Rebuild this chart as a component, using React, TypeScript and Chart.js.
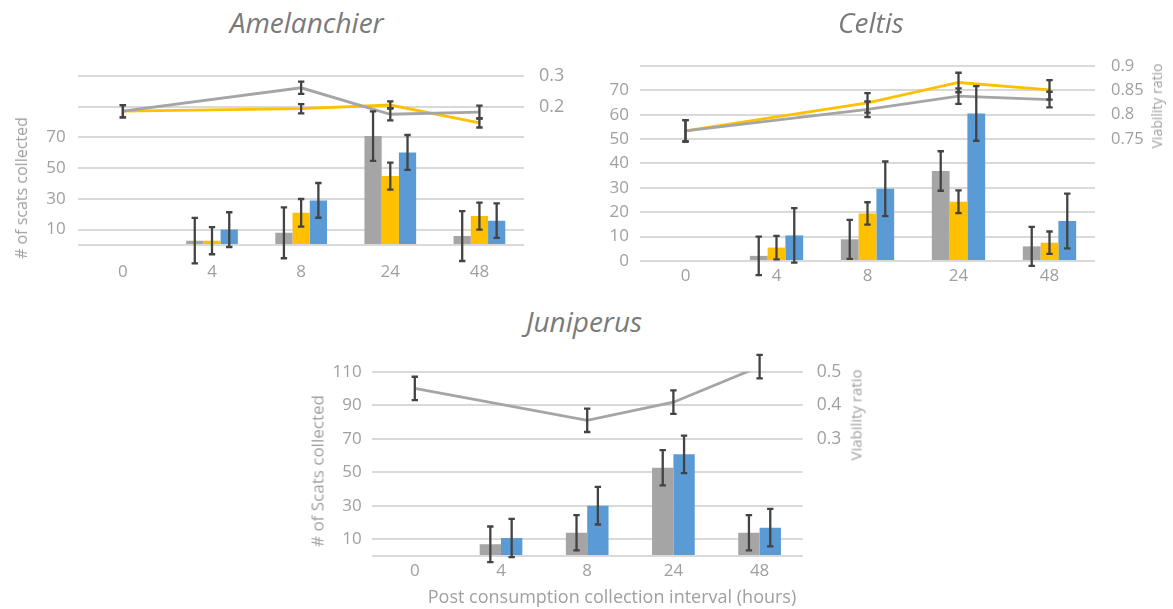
import React, { useEffect, useRef } from 'react';
import { Chart, registerables } from 'chart.js';

Chart.register(...registerables);

// ---------- shared categories ----------
const categories = ['0', '4', '8', '24', '48'];

// ---------- Amelanchier ----------
const amelBarGray = [null, 2.8, 7.9, 70.8, 5.8];
const amelBarGrayErr = [null, 14.8, 16.5, 16.1, 16.2];
const amelBarYellow = [null, 2.8, 20.9, 44.8, 18.8];
const amelBarYellowErr = [null, 8.8, 9, 8.8, 8.8];
const amelBarBlue = [null, 10, 29, 60.2, 15.8];
const amelBarBlueErr = [null, 11.3, 11.3, 11.3, 11.2];
const amelLineGray = [0.185, null, 0.261, 0.175, 0.182];
const amelLineGrayErr = [0.02, null, 0.02, 0.02, 0.021];
const amelLineYellow = [0.185, null, 0.193, 0.205, 0.147];
const amelLineYellowErr = [0.02, null, 0.015, 0.012, 0.015];
const amelLeftTicks = [0, 10, 30, 50, 70, 90, 110];
const amelLeftLabels = [10, 30, 50, 70];
const amelRightTicks = [0.2, 0.3];

// ---------- Celtis ----------
const celtBarGray = [null, 2.1, 8.9, 36.9, 6];
const celtBarGrayErr = [null, 7.9, 8, 8.1, 8];
const celtBarYellow = [null, 5.5, 19.5, 24.3, 7.5];
const celtBarYellowErr = [null, 4.8, 4.6, 4.7, 4.6];
const celtBarBlue = [null, 10.5, 29.6, 60.5, 16.4];
const celtBarBlueErr = [null, 11.2, 11.2, 11.2, 11.2];
const celtLineGray = [0.767, null, 0.811, 0.838, 0.831];
const celtLineGrayErr = [0.022, null, 0.016, 0.016, 0.016];
const celtLineYellow = [0.767, null, 0.824, 0.866, 0.851];
const celtLineYellowErr = [0.022, null, 0.02, 0.02, 0.02];
const celtLeftTicks = [0, 10, 20, 30, 40, 50, 60, 70, 80];
const celtLeftLabels = [0, 10, 20, 30, 40, 50, 60, 70];
const celtRightTicks = [0.75, 0.8, 0.85, 0.9];

// ---------- Juniperus ----------
const junBarGray = [null, 7, 13.9, 52.7, 13.9];
const junBarGrayErr = [null, 10.6, 10.5, 10.5, 10.5];
const junBarBlue = [null, 10.7, 30, 60.7, 16.9];
const junBarBlueErr = [null, 11.4, 11.2, 11.2, 11.2];
const junLineGray = [0.45, null, 0.355, 0.409, 0.515];
const junLineGrayErr = [0.035, null, 0.035, 0.035, 0.035];
const junLeftTicks = [0, 10, 30, 50, 70, 90, 110];
const junLeftLabels = [10, 30, 50, 70, 90, 110];
const junRightTicks = [0.3, 0.4, 0.5];

const GRAY = '#a5a5a5';
const YELLOW = '#ffc000';
const BLUE = '#5b9bd5';
const TICK = '#a0a0a0';
const GRID = '#d9d9d9';
const FONT = "'Open Sans', sans-serif";

const errorBarPlugin = {
  id: 'errorBars',
  afterDatasetsDraw(chart: any) {
    const ctx = chart.ctx;
    chart.data.datasets.forEach((ds: any, i: number) => {
      const errs = ds.errors;
      if (!errs) return;
      const meta = chart.getDatasetMeta(i);
      const yScale = chart.scales[meta.yAxisID];
      meta.data.forEach((el: any, j: number) => {
        const v = ds.data[j];
        const e = errs[j];
        if (v == null || e == null) return;
        const x = el.x;
        const yt = yScale.getPixelForValue(v + e);
        const yb = yScale.getPixelForValue(v - e);
        ctx.save();
        ctx.strokeStyle = '#434343';
        ctx.lineWidth = 2.3;
        ctx.beginPath();
        ctx.moveTo(x, yt);
        ctx.lineTo(x, yb);
        ctx.moveTo(x - 3.2, yt);
        ctx.lineTo(x + 3.2, yt);
        ctx.moveTo(x - 3.2, yb);
        ctx.lineTo(x + 3.2, yb);
        ctx.stroke();
        ctx.restore();
      });
    });
  },
};

type Series = { label: string; data: (number | null)[]; err: (number | null)[]; color: string };

interface PanelSpec {
  left: number;
  top: number;
  width: number;
  height: number;
  padTop: number;
  leftW: number;
  rightW: number;
  xH: number;
  leftPad: number;
  rightPad: number;
  xPad: number;
  leftMax: number;
  leftTicks: number[];
  leftLabels: number[];
  rightMin: number;
  rightMax: number;
  rightTicks: number[];
  bars: Series[];
  lines: Series[];
  catPct: number;
  tickSize: number;
  rightTickSize: number;
}

function Panel({ spec }: { spec: PanelSpec }) {
  const ref = useRef<HTMLCanvasElement | null>(null);
  useEffect(() => {
    if (!ref.current) return;
    const datasets: any[] = [];
    spec.lines.forEach((s) => {
      datasets.push({
        type: 'line',
        label: s.label,
        data: s.data,
        errors: s.err,
        borderColor: s.color,
        backgroundColor: s.color,
        borderWidth: 2.8,
        pointRadius: 0,
        tension: 0,
        spanGaps: true,
        yAxisID: 'y1',
        order: 0,
      });
    });
    spec.bars.forEach((s) => {
      datasets.push({
        type: 'bar',
        label: s.label,
        data: s.data,
        errors: s.err,
        backgroundColor: s.color,
        borderWidth: 0,
        yAxisID: 'y',
        order: 1,
        categoryPercentage: spec.catPct,
        barPercentage: 1,
      });
    });
    const chart = new Chart(ref.current, {
      type: 'bar',
      data: { labels: categories, datasets },
      plugins: [errorBarPlugin],
      options: {
        responsive: false,
        animation: false,
        devicePixelRatio: 1,
        layout: { padding: { top: spec.padTop, left: 0, right: 0, bottom: 0 } },
        plugins: { legend: { display: false }, tooltip: { enabled: false }, title: { display: false } },
        scales: {
          x: {
            type: 'category',
            grid: { display: false, drawTicks: false },
            border: { display: false },
            ticks: {
              color: TICK,
              font: { family: FONT, size: spec.tickSize },
              padding: spec.xPad,
              maxRotation: 0,
              autoSkip: false,
            },
            afterFit: (s: any) => {
              s.height = spec.xH;
            },
          },
          y: {
            type: 'linear',
            position: 'left',
            min: 0,
            max: spec.leftMax,
            grid: { color: GRID, lineWidth: 2, drawTicks: false },
            border: { display: false },
            ticks: {
              color: TICK,
              font: { family: FONT, size: spec.tickSize },
              padding: spec.leftPad,
              autoSkip: false,
              callback: (v: any) => (spec.leftLabels.includes(Number(v)) ? String(v) : ''),
            },
            afterBuildTicks: (s: any) => {
              s.ticks = spec.leftTicks.map((v) => ({ value: v }));
            },
            afterFit: (s: any) => {
              s.width = spec.leftW;
            },
          },
          y1: {
            type: 'linear',
            position: 'right',
            min: spec.rightMin,
            max: spec.rightMax,
            grid: { drawOnChartArea: false, drawTicks: false },
            border: { display: false },
            ticks: {
              color: TICK,
              font: { family: FONT, size: spec.rightTickSize },
              padding: spec.rightPad,
              autoSkip: false,
              callback: (v: any) => String(Math.round(Number(v) * 100) / 100),
            },
            afterBuildTicks: (s: any) => {
              s.ticks = spec.rightTicks.map((v) => ({ value: v }));
            },
            afterFit: (s: any) => {
              s.width = spec.rightW;
            },
          },
        },
      } as any,
    });
    return () => chart.destroy();
  }, [spec]);
  return (
    <canvas
      ref={ref}
      width={spec.width}
      height={spec.height}
      style={{ position: 'absolute', left: spec.left, top: spec.top, width: spec.width, height: spec.height }}
    />
  );
}

const amelSpec: PanelSpec = {
  left: 0, top: 50, width: 590, height: 240,
  padTop: 22.7, leftW: 78.3, rightW: 66, xH: 45,
  leftPad: 12.6, rightPad: 15, xPad: 17,
  leftMax: 110, leftTicks: amelLeftTicks, leftLabels: amelLeftLabels,
  rightMin: -0.25, rightMax: 0.3, rightTicks: amelRightTicks,
  bars: [
    { label: 'gray', data: amelBarGray, err: amelBarGrayErr, color: GRAY },
    { label: 'yellow', data: amelBarYellow, err: amelBarYellowErr, color: YELLOW },
    { label: 'blue', data: amelBarBlue, err: amelBarBlueErr, color: BLUE },
  ],
  lines: [
    { label: 'gray viability', data: amelLineGray, err: amelLineGrayErr, color: GRAY },
    { label: 'yellow viability', data: amelLineYellow, err: amelLineYellowErr, color: YELLOW },
  ],
  catPct: 0.58, tickSize: 17, rightTickSize: 18,
};

const celtSpec: PanelSpec = {
  left: 590, top: 40, width: 583, height: 250,
  padTop: 22.3, leftW: 50, rightW: 78, xH: 29,
  leftPad: 11, rightPad: 16, xPad: 4.8,
  leftMax: 80, leftTicks: celtLeftTicks, leftLabels: celtLeftLabels,
  rightMin: 0.5, rightMax: 0.9, rightTicks: celtRightTicks,
  bars: [
    { label: 'gray', data: celtBarGray, err: celtBarGrayErr, color: GRAY },
    { label: 'yellow', data: celtBarYellow, err: celtBarYellowErr, color: YELLOW },
    { label: 'blue', data: celtBarBlue, err: celtBarBlueErr, color: BLUE },
  ],
  lines: [
    { label: 'gray viability', data: celtLineGray, err: celtLineGrayErr, color: GRAY },
    { label: 'yellow viability', data: celtLineYellow, err: celtLineYellowErr, color: YELLOW },
  ],
  catPct: 0.586, tickSize: 17, rightTickSize: 16.5,
};

const junSpec: PanelSpec = {
  left: 300, top: 340, width: 580, height: 269,
  padTop: 31.7, leftW: 71.7, rightW: 77.3, xH: 53,
  leftPad: 10, rightPad: 14, xPad: 5.3,
  leftMax: 110, leftTicks: junLeftTicks, leftLabels: junLeftLabels,
  rightMin: -0.05, rightMax: 0.5, rightTicks: junRightTicks,
  bars: [
    { label: 'gray', data: junBarGray, err: junBarGrayErr, color: GRAY },
    { label: 'blue', data: junBarBlue, err: junBarBlueErr, color: BLUE },
  ],
  lines: [{ label: 'gray viability', data: junLineGray, err: junLineGrayErr, color: GRAY }],
  catPct: 0.495, tickSize: 17, rightTickSize: 17.5,
};

function Label({ text, cx, cy, size, color, italic, rotate }: any) {
  return (
    <div
      style={{
        position: 'absolute',
        left: cx,
        top: cy,
        transform: `translate(-50%, -50%)${rotate ? ' rotate(-90deg)' : ''}`,
        whiteSpace: 'nowrap',
        fontFamily: FONT,
        fontSize: size,
        lineHeight: 1,
        color,
        fontStyle: italic ? 'italic' : 'normal',
      }}
    >
      {text}
    </div>
  );
}

export default function App() {
  return (
    <div
      style={{
        position: 'absolute',
        left: 0,
        top: 0,
        width: 1173,
        height: 609,
        background: '#ffffff',
        overflow: 'hidden',
      }}
    >
      <Panel spec={amelSpec} />
      <Panel spec={celtSpec} />
      <Panel spec={junSpec} />
      <Label text="Amelanchier" cx={306.7} cy={22} size={28} color="#7a7a7a" italic />
      <Label text="Celtis" cx={871} cy={22} size={28} color="#7a7a7a" italic />
      <Label text="Juniperus" cx={584} cy={321} size={28} color="#7a7a7a" italic />
      <Label text="# of scats collected" cx={21} cy={188} size={16} color={TICK} rotate />
      <Label text="Viability ratio" cx={1157} cy={105.5} size={14} color={TICK} rotate />
      <Label text="# of Scats collected" cx={316.5} cy={471} size={17} color={TICK} rotate />
      <Label text="Viability ratio" cx={855.5} cy={415} size={15} color={TICK} rotate />
      <Label text="Post consumption collection interval (hours)" cx={612} cy={596} size={18} color={TICK} />
    </div>
  );
}
